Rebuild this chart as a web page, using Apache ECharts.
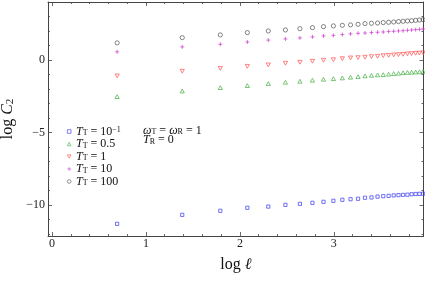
<!DOCTYPE html>
<html>
<head>
<meta charset="utf-8">
<script src="https://cdn.jsdelivr.net/npm/echarts@6/dist/echarts.min.js"></script>
<style>html,body{margin:0;padding:0;background:#fff}#c{width:425px;height:283px}</style>
</head>
<body>
<div id="c"></div>
<script>
// ---- data ----
const ell = [2,4,6,8,10,12,14,16,18,20,22,24,26,28,30,32,34,36,38,40,42,44,46,48,50,52];
const T01  = [-11.30,-10.68,-10.40,-10.19,-10.11,-9.99,-9.92,-9.85,-9.78,-9.71,-9.64,-9.60,-9.57,-9.50,-9.48,-9.42,-9.39,-9.37,-9.34,-9.32,-9.30,-9.29,-9.26,-9.24,-9.23,-9.22];
const T05  = [-2.52,-2.13,-1.90,-1.76,-1.62,-1.53,-1.46,-1.39,-1.32,-1.28,-1.23,-1.18,-1.14,-1.09,-1.05,-1.02,-1.00,-0.97,-0.93,-0.91,-0.87,-0.85,-0.84,-0.82,-0.81,-0.79];
const T1   = [-1.09,-0.77,-0.57,-0.43,-0.33,-0.22,-0.15,-0.08,-0.01,0.03,0.10,0.15,0.17,0.20,0.24,0.26,0.31,0.33,0.36,0.38,0.40,0.43,0.45,0.47,0.48,0.50];
const T10  = [0.57,0.91,1.09,1.25,1.38,1.46,1.53,1.60,1.67,1.71,1.76,1.81,1.85,1.87,1.90,1.92,1.94,1.97,1.99,2.01,2.03,2.06,2.08,2.10,2.12,2.15];
const T100 = [1.19,1.55,1.74,1.90,2.01,2.08,2.17,2.24,2.31,2.36,2.40,2.43,2.47,2.52,2.54,2.56,2.59,2.61,2.63,2.66,2.68,2.70,2.72,2.74,2.77,2.79];
const seriesNames = ['T01','T05','T1','T10','T100'];
const legendLabels = {
  T01: '{i|T}{s|T}{n| = 10}{p|\u22121}',
  T05: '{i|T}{s|T}{n| = 0.5}',
  T1: '{i|T}{s|T}{n| = 1}',
  T10: '{i|T}{s|T}{n| = 10}',
  T100: '{i|T}{s|T}{n| = 100}'
};
const xMajor = [0,1,2,3];
const xMinor = [0.2,0.4,0.6,0.8,1.2,1.4,1.6,1.8,2.2,2.4,2.6,2.8,3.2,3.4,3.6,3.8];
const yMajor = [-10,-5,0];
const yMinor = [-12,-11,-9,-8,-7,-6,-4,-3,-2,-1,1,2,3,4];

// ---- chart ----
const FONT = '"Liberation Serif","DejaVu Serif",serif';
const AX = '#444';
const xr = {min:-0.043, max:3.955};
const yr = {min:-12.14, max:4.01};
const richSmall = {
  i:{fontFamily:FONT,fontSize:12,fontStyle:'italic',color:'#111',lineHeight:11},
  n:{fontFamily:FONT,fontSize:12,color:'#111',lineHeight:11},
  s:{fontFamily:FONT,fontSize:8,color:'#111',lineHeight:4,verticalAlign:'bottom'},
  p:{fontFamily:FONT,fontSize:8,color:'#111',lineHeight:4,verticalAlign:'top'},
  w:{fontFamily:FONT,fontSize:12,fontStyle:'italic',color:'#111',lineHeight:11}
};
function fmt(v){ return v<0 ? '\u2212'+(-v) : String(v); }
function xAx(pos, vals, len, showLine, labels, extra){
  return Object.assign({type:'value', position:pos, min:xr.min, max:xr.max,
    axisLine:{show:showLine, onZero:false, lineStyle:{color:AX,width:1}},
    axisTick:{show:true, inside:true, length:len, customValues:vals, lineStyle:{color:AX,width:0.8}},
    axisLabel:{show:labels, customValues:vals, margin:2, fontFamily:FONT, fontSize:12, color:'#222', formatter:fmt},
    splitLine:{show:false}}, extra||{});
}
function yAx(pos, vals, len, showLine, labels, extra){
  return Object.assign({type:'value', position:pos, min:yr.min, max:yr.max,
    axisLine:{show:showLine, onZero:false, lineStyle:{color:AX,width:1}},
    axisTick:{show:true, inside:true, length:len, customValues:vals, lineStyle:{color:AX,width:0.8}},
    axisLabel:{show:labels, customValues:vals, margin:3, fontFamily:FONT, fontSize:12, color:'#222', formatter:fmt},
    splitLine:{show:false}}, extra||{});
}
const styles = {
  T01:{symbol:'rect', size:3.2, color:'#3b3bf2'},
  T05:{symbol:'triangle', size:[4.2,3.8], color:'#44b044'},
  T1:{symbol:'path://M0,0H10L5,9Z', size:[4.2,3.8], color:'#ff5252'},
  T10:{symbol:'path://M2,0V4M0,2H4', size:4, color:'#cc3acc'},
  T100:{symbol:'circle', size:4.2, color:'#555'}
};
const dataMap = {T01, T05, T1, T10, T100};
const series = seriesNames.map(n => ({
  type:'scatter', name:n, xAxisIndex:0, yAxisIndex:0,
  data: ell.map((l,i) => [Math.log(l), dataMap[n][i]]),
  symbol: styles[n].symbol, symbolSize: styles[n].size,
  itemStyle:{color:'rgba(255,255,255,0)', borderColor:styles[n].color, borderWidth:0.9},
  emphasis:{disabled:true}, clip:false
}));
const chart = echarts.init(document.getElementById('c'), null, {renderer:'canvas'});
chart.setOption({
  animation:false,
  backgroundColor:'#fff',
  grid:{left:48, right:1.5, top:2, bottom:47, outerBoundsMode:'none', containLabel:false},
  xAxis:[
    xAx('bottom', xMajor, 4, true, true, {
      name:'log {i|\u2113}', nameLocation:'middle', nameGap:21,
      nameTextStyle:{fontFamily:FONT, fontSize:16, color:'#111',
        rich:{i:{fontFamily:FONT,fontSize:16,fontStyle:'italic',color:'#111'}}}}),
    xAx('bottom', xMinor, 2, false, false),
    xAx('top', xMajor, 4, true, false),
    xAx('top', xMinor, 2, false, false)
  ],
  yAxis:[
    yAx('left', yMajor, 4, true, true, {
      name:'log {i|C}{s|2}', nameLocation:'middle', nameGap:28, nameRotate:90,
      nameTextStyle:{fontFamily:FONT, fontSize:16, color:'#111',
        rich:{i:{fontFamily:FONT,fontSize:16,fontStyle:'italic',color:'#111',lineHeight:16},
              s:{fontFamily:FONT,fontSize:11,color:'#111',lineHeight:5,verticalAlign:'bottom'}}}}),
    yAx('left', yMinor, 2, false, false),
    yAx('right', yMajor, 4, true, false),
    yAx('right', yMinor, 2, false, false)
  ],
  legend:{
    orient:'vertical', left:67, top:125.5, itemWidth:3.6, itemHeight:3.6, itemGap:0.5,
    padding:0, selectedMode:false,
    itemStyle:{borderWidth:0.8},
    data: seriesNames,
    formatter: n => legendLabels[n],
    textStyle:{fontFamily:FONT, fontSize:12, color:'#111', lineHeight:11, rich:richSmall}
  },
  graphic:[
    {type:'text', x:143, y:130.5, silent:true,
     style:{text:'{w|\u03c9}{s|T}{n| = }{w|\u03c9}{s|R}{n| = 1}', rich:richSmall, verticalAlign:'middle', fontFamily:FONT, fontSize:12, fill:'#111'}},
    {type:'text', x:143, y:140, silent:true,
     style:{text:'{i|T}{s|R}{n| = 0}', rich:richSmall, verticalAlign:'middle', fontFamily:FONT, fontSize:12, fill:'#111'}}
  ],
  series: series
});
</script>
</body>
</html>
